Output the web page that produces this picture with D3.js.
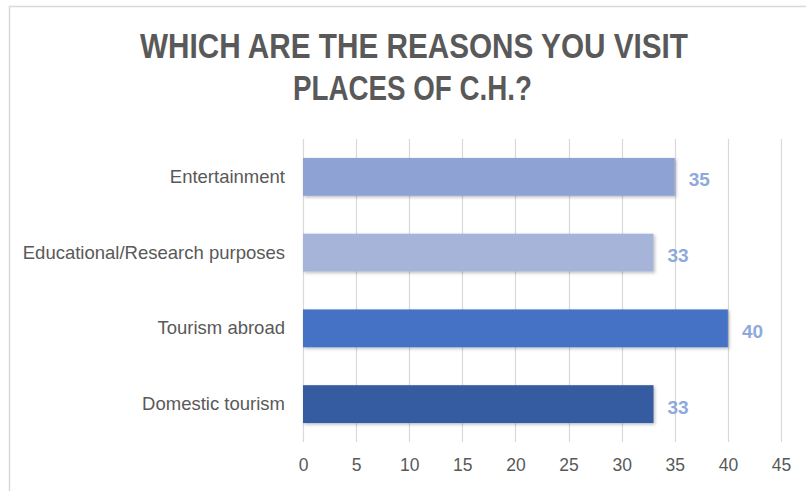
<!DOCTYPE html>
<html>
<head>
<meta charset="utf-8">
<script src="https://cdn.jsdelivr.net/npm/d3@7"></script>
<style>
  html, body { margin: 0; padding: 0; background: #ffffff; }
  svg { display: block; }
</style>
</head>
<body>
<svg id="chart" width="806" height="491"></svg>
<script>
// Survey answers: reasons for visiting cultural heritage places
const categories = ["Entertainment", "Educational/Research purposes", "Tourism abroad", "Domestic tourism"];
const values = [35, 33, 40, 33];
const barColors = ["#8fa2d4", "#a7b4da", "#4472c4", "#365ca0"];
const xTicks = [0, 5, 10, 15, 20, 25, 30, 35, 40, 45];
const titleLines = ["WHICH ARE THE REASONS YOU VISIT", "PLACES OF C.H.?"];

const svg = d3.select("#chart");

// chart frame
svg.append("rect")
  .attr("x", 9.5).attr("y", 6.5)
  .attr("width", 820).attr("height", 500)
  .attr("fill", "#ffffff")
  .attr("stroke", "#d9d9d9")
  .attr("stroke-width", 1.5);

// soft shadow under the bars
const defs = svg.append("defs");
const f = defs.append("filter").attr("id", "barShadow")
  .attr("x", "-5%").attr("y", "-20%").attr("width", "115%").attr("height", "150%");
f.append("feDropShadow")
  .attr("dx", 1.5).attr("dy", 1.5).attr("stdDeviation", 1.5)
  .attr("flood-color", "#000").attr("flood-opacity", 0.25);

const plot = { left: 303, right: 781, top: 139, bottom: 442 };

const x = d3.scaleLinear().domain([0, 45]).range([plot.left, plot.right]);
const y = d3.scaleBand().domain(categories)
  .range([plot.top, plot.bottom])
  .paddingInner(0.5).paddingOuter(0.25);

// title
const titleW = [548, 239];
const titleCx = [414, 412.5];
const titleY = [58, 100];
titleLines.forEach((t, i) => {
  svg.append("text")
    .attr("x", titleCx[i]).attr("y", titleY[i])
    .attr("text-anchor", "middle")
    .attr("font-family", "Liberation Sans, Arial, sans-serif")
    .attr("font-weight", "bold")
    .attr("font-size", 35)
    .attr("fill", "#595959")
    .attr("textLength", titleW[i])
    .attr("lengthAdjust", "spacingAndGlyphs")
    .text(t);
});

// vertical gridlines
svg.append("g")
  .selectAll("line")
  .data(xTicks)
  .join("line")
  .attr("x1", d => Math.round(x(d)) + 0.5)
  .attr("x2", d => Math.round(x(d)) + 0.5)
  .attr("y1", plot.top)
  .attr("y2", plot.bottom)
  .attr("stroke", "#d9d9d9")
  .attr("stroke-width", 1.2);

// x axis labels
const xAxis = d3.axisBottom(x).tickValues(xTicks).tickSize(0).tickPadding(0);
const gx = svg.append("g")
  .attr("transform", `translate(0, ${plot.bottom + 29})`)
  .call(xAxis);
gx.select(".domain").remove();
gx.selectAll("text")
  .attr("dy", 0)
  .attr("font-family", "Liberation Sans, Arial, sans-serif")
  .attr("font-size", 17.5)
  .attr("fill", "#595959");

// category labels
const yAxis = d3.axisLeft(y).tickSize(0).tickPadding(18);
const gy = svg.append("g")
  .attr("transform", `translate(${plot.left}, 0)`)
  .call(yAxis);
gy.select(".domain").remove();
gy.selectAll("text")
  .attr("font-family", "Liberation Sans, Arial, sans-serif")
  .attr("font-size", 18.5)
  .attr("fill", "#595959");

// bars
svg.append("g")
  .selectAll("rect")
  .data(categories)
  .join("rect")
  .attr("x", x(0))
  .attr("y", d => y(d))
  .attr("width", (d, i) => x(values[i]) - x(0))
  .attr("height", y.bandwidth())
  .attr("fill", (d, i) => barColors[i])
  .attr("filter", "url(#barShadow)");

// value labels
svg.append("g")
  .selectAll("text")
  .data(categories)
  .join("text")
  .attr("x", (d, i) => x(values[i]) + 14)
  .attr("y", d => y(d) + y.bandwidth() / 2)
  .attr("dy", "0.5em")
  .attr("font-family", "Liberation Sans, Arial, sans-serif")
  .attr("font-weight", "bold")
  .attr("font-size", 19)
  .attr("fill", "#8ea9db")
  .text((d, i) => values[i]);
</script>
</body>
</html>
